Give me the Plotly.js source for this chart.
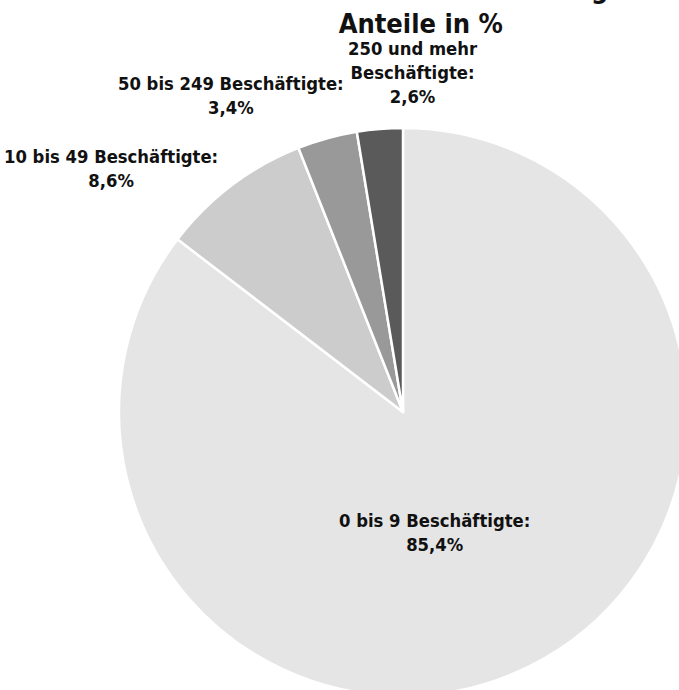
<!DOCTYPE html>
<html>
<head>
<meta charset="utf-8">
<script src="https://cdn.plot.ly/plotly-3.0.1.min.js"></script>
<style>
html, body { margin: 0; padding: 0; overflow: hidden; background: #ffffff; }
#chart { width: 690px; height: 700px; }
</style>
</head>
<body>
<div id="chart"></div>
<script>
// Data
const categories = ["0 bis 9 Beschäftigte", "10 bis 49 Beschäftigte", "50 bis 249 Beschäftigte", "250 und mehr Beschäftigte"];
const shares = [85.4, 8.6, 3.4, 2.6];
const sliceColors = ["#e5e5e5", "#cccccc", "#999999", "#5a5a5a"];
const titleLines = ["Unternehmen zum Stichtag", "Anteile in %"];

const W = 690, H = 700;
const FONT = "DejaVu Sans Condensed, DejaVu Sans, sans-serif";

// label anchor points (pixels, layout only)
const labelPos = [[434, 532], [111, 168], [231, 96], [413, 72]];

function fmt(v) { return v.toFixed(1).replace(".", ","); }
function labelText(cat, v) {
  let c = cat;
  if (c.startsWith("250 und mehr")) c = c.replace("250 und mehr ", "250 und mehr<br>");
  return "<b>" + c + ":<br>" + fmt(v) + "%</b>";
}

const annotations = categories.map((c, i) => ({
  text: labelText(c, shares[i]),
  x: labelPos[i][0] / W, y: (H - labelPos[i][1]) / H,
  xref: "paper", yref: "paper", xanchor: "center", yanchor: "middle",
  showarrow: false, align: "center",
  font: { family: FONT, size: 18.3, color: "#111111" }
}));
annotations.push({
  text: "<b>" + titleLines.join("<br>") + "</b>",
  x: 420 / W, y: (H - 41) / H,
  xref: "paper", yref: "paper", xanchor: "center", yanchor: "bottom",
  showarrow: false, align: "center",
  font: { family: FONT, size: 27, color: "#111111" }
});

const cx = 403, cy = 412, r = 284;
const trace = {
  type: "pie",
  labels: categories,
  values: shares,
  sort: false,
  direction: "clockwise",
  rotation: 0,
  marker: { colors: sliceColors, line: { color: "#ffffff", width: 2.5 } },
  textinfo: "none",
  hoverinfo: "label+percent",
  domain: { x: [(cx - r) / W, (cx + r) / W], y: [(H - cy - r) / H, (H - cy + r) / H] }
};

const layout = {
  width: W, height: H,
  margin: { l: 0, r: 0, t: 0, b: 0 },
  paper_bgcolor: "#ffffff",
  showlegend: false,
  annotations: annotations
};

Plotly.newPlot("chart", [trace], layout, { displayModeBar: false, staticPlot: true });
</script>
</body>
</html>
